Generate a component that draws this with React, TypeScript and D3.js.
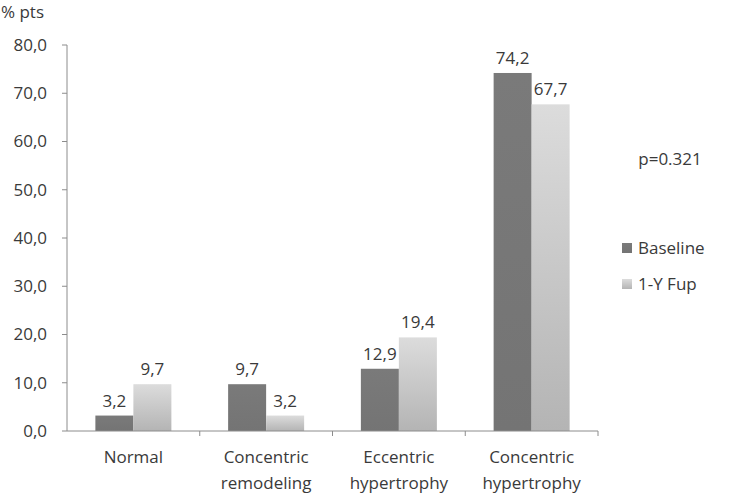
import * as d3 from 'd3';
import React from 'react';

const categories = [
  ['Normal'],
  ['Concentric', 'remodeling'],
  ['Eccentric', 'hypertrophy'],
  ['Concentric', 'hypertrophy'],
];
const seriesNames = ['Baseline', '1-Y Fup'];
const baseline = [3.2, 9.7, 12.9, 74.2];
const followUp = [9.7, 3.2, 19.4, 67.7];
const yTicks = [0, 10, 20, 30, 40, 50, 60, 70, 80];
const pValue = 'p=0.321';

const W = 744;
const H = 494;
const plot = { left: 67, right: 598, top: 45, bottom: 431 };
const font = '"Open Sans", sans-serif';
const fontSize = 17;
const weight = 500;
const textColor = '#3a3a3a';
const axisColor = '#8c8c8c';

const fmt = (v: number) => d3.format('.1f')(v).replace('.', ',');

const App = () => {
  const keys = categories.map((c) => c.join(' '));
  const x = d3.scaleBand().domain(keys).range([plot.left, plot.right]).padding(0);
  const bw = x.bandwidth();
  const groupW = 76;
  const xSub = d3
    .scaleBand()
    .domain(seriesNames)
    .range([(bw - groupW) / 2, (bw + groupW) / 2])
    .padding(0);
  const y = d3.scaleLinear().domain([0, 80]).range([plot.bottom, plot.top]);

  const series = [
    { name: seriesNames[0], values: baseline, fill: 'url(#gradBase)' },
    { name: seriesNames[1], values: followUp, fill: 'url(#gradFup)' },
  ];

  const txt = { fontFamily: font, fontSize, fontWeight: weight, fill: textColor };

  return (
    <svg width={W} height={H} style={{ position: 'absolute', left: 0, top: 0 }}>
      <defs>
        <linearGradient id="gradBase" x1="0" y1="0" x2="0" y2="1">
          <stop offset="0%" stopColor="#7a7a7a" />
          <stop offset="100%" stopColor="#747474" />
        </linearGradient>
        <linearGradient id="gradFup" x1="0" y1="0" x2="0" y2="1">
          <stop offset="0%" stopColor="#dcdcdc" />
          <stop offset="100%" stopColor="#b4b4b4" />
        </linearGradient>
      </defs>
      <rect width={W} height={H} fill="#fff" />

      <text x={1} y={18} {...txt}>
        % pts
      </text>

      {/* y axis */}
      <line x1={plot.left} x2={plot.left} y1={plot.top} y2={plot.bottom} stroke={axisColor} />
      {yTicks.map((t) => (
        <g key={t}>
          <line x1={plot.left - 5} x2={plot.left} y1={y(t)} y2={y(t)} stroke={axisColor} />
          <text x={47} y={y(t)} dy="0.35em" textAnchor="end" {...txt}>
            {fmt(t)}
          </text>
        </g>
      ))}

      {/* bars */}
      {series.map((s) =>
        s.values.map((v, i) => {
          const bx = (x(keys[i]) ?? 0) + (xSub(s.name) ?? 0);
          return (
            <g key={s.name + i}>
              <rect
                x={bx}
                y={y(v)}
                width={xSub.bandwidth()}
                height={y(0) - y(v)}
                fill={s.fill}
              />
              <text x={bx + xSub.bandwidth() / 2} y={y(v) - 9} textAnchor="middle" {...txt}>
                {fmt(v)}
              </text>
            </g>
          );
        })
      )}

      {/* x axis */}
      <line x1={plot.left} x2={plot.right} y1={plot.bottom} y2={plot.bottom} stroke={axisColor} />
      {keys.map((k) => (
        <line
          key={k}
          x1={(x(k) ?? 0) + bw}
          x2={(x(k) ?? 0) + bw}
          y1={plot.bottom}
          y2={plot.bottom + 5}
          stroke={axisColor}
        />
      ))}
      {categories.map((lines, i) => (
        <text key={keys[i]} x={(x(keys[i]) ?? 0) + bw / 2} y={463} textAnchor="middle" {...txt}>
          {lines.map((l, j) => (
            <tspan key={j} x={(x(keys[i]) ?? 0) + bw / 2} dy={j === 0 ? 0 : 26}>
              {l}
            </tspan>
          ))}
        </text>
      ))}

      <text x={670} y={165} textAnchor="middle" {...txt}>
        {pValue}
      </text>

      {/* legend */}
      {series.map((s, i) => (
        <g key={s.name} transform={`translate(622, ${243 + i * 36})`}>
          <rect width={10} height={10} fill={s.fill} />
          <text x={16} y={5} dy="0.35em" {...txt}>
            {s.name}
          </text>
        </g>
      ))}
    </svg>
  );
};

export default App;
